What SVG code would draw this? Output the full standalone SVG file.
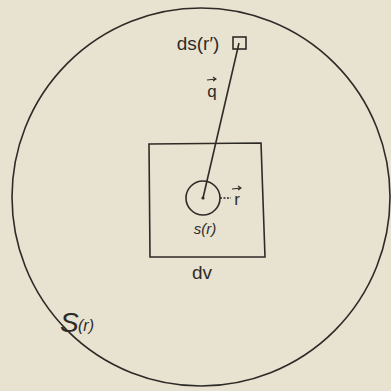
<svg xmlns="http://www.w3.org/2000/svg" width="391" height="391" viewBox="0 0 391 391">
<style>
.ln{fill:none;stroke:#2e2b27;stroke-width:1.6}
.t{font-family:"Liberation Sans",sans-serif;fill:#2e2b27}
.v{fill:none;stroke:#2e2b27;stroke-width:1.1}
</style>
<rect width="391" height="391" fill="#e8e2d1"/>
<g id="surface-S"><circle class="ln" cx="201" cy="197" r="189"/>
<text class="t" x="60" y="332" font-size="28" font-style="italic">S</text><text class="t" x="78" y="331" font-size="16" font-style="italic">(r)</text></g>
<g id="volume-dv"><path class="ln" d="M149,144 L261,143 L265,257 L150,257 Z" stroke-width="2"/>
<text class="t" x="202" y="279" font-size="19" text-anchor="middle">dv</text></g>
<g id="sphere-s"><circle class="ln" cx="203" cy="198" r="17"/><circle cx="203" cy="198" r="1.6" fill="#2e2b27"/>
<text class="t" x="205" y="234" font-size="15" font-style="italic" text-anchor="middle">s(r)</text></g>
<g id="element-ds"><rect class="ln" x="233" y="37" width="13" height="12"/>
<text class="t" x="198" y="50" font-size="19" text-anchor="middle">ds(r′)</text></g>
<g id="connectors">
<line class="ln" x1="203" y1="198" x2="239" y2="43"/>
<line class="ln" x1="220" y1="198" x2="231" y2="198" stroke-width="1" stroke-dasharray="2,1.5"/>
</g>
<g id="labels">
<text class="t" x="212" y="97" font-size="17" text-anchor="middle">q</text><path class="v" d="M207,80 L216,79 M213,77 L216,79 L213,81"/>
<text class="t" x="237" y="205" font-size="17" text-anchor="middle">r</text><path class="v" d="M232,189 L241,188 M238,186 L241,188 L238,190"/>
</g>
</svg>
